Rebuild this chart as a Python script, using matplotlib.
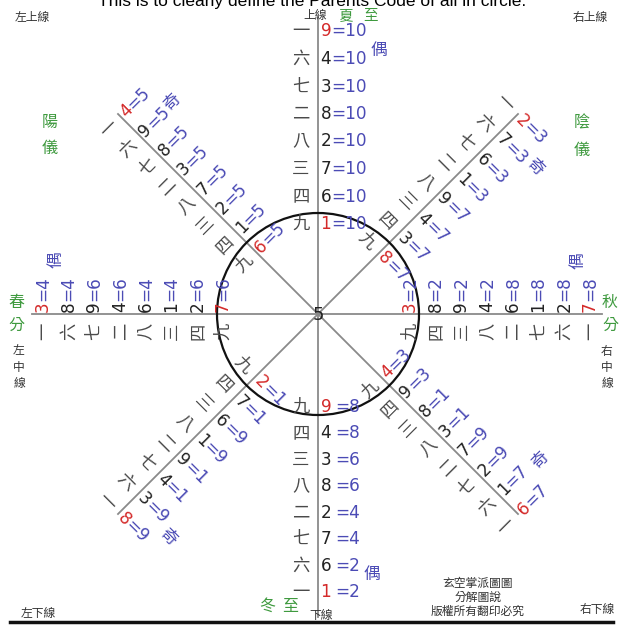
import numpy as np
import matplotlib
matplotlib.use('Agg')
import matplotlib.pyplot as plt
from matplotlib.patches import Circle

# ---------------- data ----------------
chinese = ['九', '四', '三', '八', '二', '七', '六', '一']   # inner -> outer (all arms)

north_digits = [1, 6, 7, 2, 8, 3, 4, 9]
north_values = [10, 10, 10, 10, 10, 10, 10, 10]
south_digits = [9, 4, 3, 8, 2, 7, 6, 1]
south_values = [8, 8, 6, 6, 4, 4, 2, 2]
west_digits = [7, 2, 1, 6, 4, 9, 8, 3]
west_values = [6, 6, 4, 4, 6, 6, 4, 4]
east_digits = [3, 8, 9, 4, 6, 1, 2, 7]
east_values = [2, 2, 2, 2, 8, 8, 8, 8]
nw_digits = [6, 1, 2, 7, 3, 8, 9, 4]
nw_values = [5, 5, 5, 5, 5, 5, 5, 5]
ne_digits = [8, 3, 4, 9, 1, 6, 7, 2]
ne_values = [7, 7, 7, 7, 3, 3, 3, 3]
se_digits = [4, 9, 8, 3, 7, 2, 1, 6]
se_values = [3, 3, 1, 1, 9, 9, 7, 7]
sw_digits = [2, 7, 6, 1, 9, 4, 3, 8]
sw_values = [1, 1, 9, 9, 1, 1, 9, 9]

# ---------------- setup ----------------
W, H = 621, 625
fig = plt.figure(figsize=(W / 100, H / 100), dpi=100)
ax = fig.add_axes([0, 0, 1, 1])
ax.set_xlim(0, W)
ax.set_ylim(H, 0)
ax.axis('off')

CJK = ['Noto Sans CJK TC', 'DejaVu Sans']
BLUE = '#4b4bb5'
RED = '#d42a2a'
GREEN = '#3f9a3f'
GREY = '#8a8a8a'
DARK = '#222222'
CN = '#4a4a4a'

CX, CY = 318, 314

# lines
ax.plot([CX, CX], [17, 617], color=GREY, lw=1.3, zorder=1)
ax.plot([32, 602], [CY, CY], color=GREY, lw=1.3, zorder=1)
for sx, sy in [(-1, -1), (1, -1), (1, 1), (-1, 1)]:
    ax.plot([CX, CX + sx * 200], [CY, CY + sy * 200], color=GREY, lw=1.3, zorder=1)
ax.add_patch(Circle((CX, CY), 101, fill=False, ec='#111111', lw=1.6, zorder=2))
ax.plot([10, 613], [622, 622], color='#111111', lw=2.5, zorder=1)

ax.text(CX, CY + 1, '5', fontsize=13, ha='center', va='center', color=DARK,
        family='DejaVu Sans', zorder=4)

FS_D = 12.2
FS_C = 12.5
PX = 100 / 72.0


def rot(vec, ang):
    a = np.deg2rad(ang)
    c, s = np.cos(a), np.sin(a)
    return np.array([c * vec[0] - s * vec[1], s * vec[0] + c * vec[1]])


def to_px(p):
    return CX + p[0], CY - p[1]


def arm(digits, values, kind, phi, r0, r1, gap=0.0):
    base_u = np.array([0, 1]) if kind == 'top' else np.array([0, -1])
    u = rot(base_u, phi)
    v = rot(np.array([-1, 0]), phi)
    t = rot(np.array([1, 0]), phi)
    radii = np.linspace(r0, r1, len(digits))
    wdig = 0.636 * FS_D * PX
    for i, (cn, d, val, r) in enumerate(zip(chinese, digits, values, radii)):
        base = r * u
        x, y = to_px(base + 17 * v)
        ax.text(x, y, cn, family=CJK, fontsize=FS_C, color=CN, rotation=phi,
                ha='center', va='center', rotation_mode='anchor', zorder=3)
        col = RED if i in (0, len(digits) - 1) else DARK
        x, y = to_px(base + 2.5 * t)
        ax.text(x, y, str(d), family='DejaVu Sans', fontsize=FS_D, color=col,
                rotation=phi, ha='left', va='center', rotation_mode='anchor', zorder=3)
        x, y = to_px(base + (2.5 + wdig + gap) * t)
        ax.text(x, y, '=' + str(val), family='DejaVu Sans', fontsize=FS_D, color=BLUE,
                rotation=phi, ha='left', va='center', rotation_mode='anchor', zorder=3)


arm(north_digits, north_values, 'top', 0, 90, 282.5)
arm(nw_digits, nw_values, 'top', 45, 88, 279)
arm(west_digits, west_values, 'top', 90, 95, 275)
arm(ne_digits, ne_values, 'top', -45, 86, 281)
arm(south_digits, south_values, 'bottom', 0, 93, 278, gap=4)
arm(se_digits, se_values, 'bottom', 45, 90, 283)
arm(east_digits, east_values, 'bottom', 90, 92, 272)
arm(sw_digits, sw_values, 'bottom', -45, 89, 282)

# odd / even marks
for x, y, s, r in [(379, 50, '偶', 0), (372, 574, '偶', 0), (56, 260, '偶', 90),
                   (578, 261, '偶', 90), (172, 102, '奇', 45), (535, 167, '奇', -45),
                   (540, 460, '奇', 45), (168, 537, '奇', -45)]:
    ax.text(x, y, s, family=CJK, fontsize=12, color=BLUE, rotation=r,
            ha='center', va='center', rotation_mode='anchor', zorder=3)

# green labels
for x, y, s in [(16, 303, '春'), (16, 325, '分'),
                (610, 302, '秋'), (610, 325, '分'), (50, 123, '陽'), (50, 148, '儀'),
                (582, 123, '陰'), (582, 150, '儀'), (267, 606, '冬'), (290, 606, '至')]:
    ax.text(x, y, s, family=CJK, fontsize=11.5, color=GREEN, ha='center', va='center', zorder=3)
for x, s in [(346, '夏'), (371, '至')]:
    ax.text(x, 16, s, family=CJK, fontsize=10.5, color=GREEN, ha='center', va='center', zorder=3)

# small dark labels
for x, y, s in [(315, 16, '上線'), (321, 616, '下線'), (32, 18, '左上線'), (590, 18, '右上線'),
                (38, 613, '左下線'), (597, 610, '右下線')]:
    ax.text(x, y, s, family=CJK, fontsize=8.5, color='#333333', ha='center', va='center', zorder=3)

for x, ys, s in [(19, [351, 367, 383], '左中線'), (607, [352, 368, 384], '右中線')]:
    for yy, ch in zip(ys, s):
        ax.text(x, yy, ch, family=CJK, fontsize=8.5, color='#333333', ha='center', va='center')

for y, s in [(583, '玄空掌派圖圖'), (597, '分解圖說'), (611, '版權所有翻印必究')]:
    ax.text(478, y, s, family=CJK, fontsize=8.5, color='#333333', ha='center', va='center')

ax.text(312, 6, 'This is to clearly define the Parents Code of all in circle.',
        family='Liberation Sans', fontsize=12.5, ha='center', va='baseline', color='black')

fig.savefig('out.png', dpi=100)
